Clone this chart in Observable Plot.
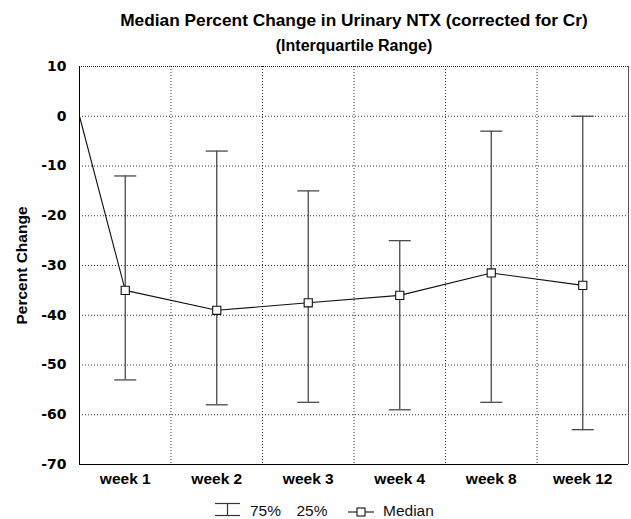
<!DOCTYPE html>
<html>
<head>
<meta charset="utf-8">
<script src="https://cdn.jsdelivr.net/npm/d3@7"></script>
<script src="https://cdn.jsdelivr.net/npm/@observablehq/plot@0.6"></script>
<style>
  html, body { margin: 0; padding: 0; background: white; }
  #chart svg { display: block; }
  #legend { display: block; }
</style>
</head>
<body>
<div id="chart"></div>
<script>
// ---- data ----
const weeks   = ["week 1", "week 2", "week 3", "week 4", "week 8", "week 12"];
const median  = [-35, -39, -37.5, -36, -31.5, -34];
const q75     = [-12, -7, -15, -25, -3, 0];
const q25     = [-53, -58, -57.5, -59, -57.5, -63];
const startValue = 0;            // baseline (week 0) value
const yTicks  = [10, 0, -10, -20, -30, -40, -50, -60, -70];
const titleText = "Median Percent Change in Urinary NTX (corrected for Cr)";
const subtitleText = "(Interquartile Range)";
const yLabel = "Percent Change";

// ---- build tables ----
const rows = weeks.map((w, i) => ({week: w, pos: i + 0.5, median: median[i], hi: q75[i], lo: q25[i]}));
const lineData = [{pos: 0, median: startValue}, ...rows];
const bounds = d3.range(1, weeks.length);           // band boundaries for vertical grid

const capSymbol = {
  draw(ctx, size) {
    const h = Math.sqrt(size / Math.PI);
    ctx.moveTo(-h, 0);
    ctx.lineTo(h, 0);
  }
};

const font = "'Liberation Sans', Arial, Helvetica, sans-serif";
const tickFont = "'DejaVu Sans', 'Liberation Sans', Arial, sans-serif";
const gridColor = "#333";

const chart = Plot.plot({
  width: 631,
  height: 495,
  marginLeft: 79,
  marginRight: 3,
  marginTop: 66,
  marginBottom: 31,
  style: {fontFamily: font, background: "white", color: "black", overflow: "visible"},
  x: {domain: [0, weeks.length], label: null},
  y: {domain: [yTicks[yTicks.length - 1], yTicks[0]], label: null},
  marks: [
    // grid
    Plot.gridX(bounds, {stroke: gridColor, strokeOpacity: 1, strokeDasharray: "1,2"}),
    Plot.gridY(yTicks.slice(1, -1), {stroke: gridColor, strokeOpacity: 1, strokeDasharray: "1,2"}),
    Plot.ruleY([yTicks[0]], {stroke: "#222", strokeDasharray: "1,1"}),
    Plot.ruleY([yTicks[yTicks.length - 1]], {stroke: "black"}),
    Plot.ruleX([0], {stroke: "black"}),
    Plot.ruleX([weeks.length], {stroke: "#555"}),
    // axes
    Plot.axisY(yTicks, {tickSize: 0, tickPadding: 13, fontSize: 14, fontWeight: "bold", fontFamily: tickFont,
      tickFormat: d => String(d), label: null}),
    Plot.axisX(rows.map(d => d.pos), {tickSize: 0, tickPadding: 8, fontSize: 15.5, fontWeight: "bold",
      tickFormat: p => weeks[Math.floor(p)], label: null}),
    // error bars
    Plot.ruleX(rows, {x: "pos", y1: "lo", y2: "hi", stroke: "#4a4a4a", strokeWidth: 1.3}),
    Plot.dot(rows, {x: "pos", y: "hi", symbol: capSymbol, r: 11, stroke: "#4a4a4a", strokeWidth: 1.3, fill: "none"}),
    Plot.dot(rows, {x: "pos", y: "lo", symbol: capSymbol, r: 11, stroke: "#4a4a4a", strokeWidth: 1.3, fill: "none"}),
    // median line
    Plot.line(lineData, {x: "pos", y: "median", stroke: "#111", strokeWidth: 1.1}),
    Plot.dot(rows, {x: "pos", y: "median", symbol: "square", r: 4.6, fill: "white", stroke: "#111", strokeWidth: 1.1}),
    // titles
    Plot.text([titleText], {frameAnchor: "top", dy: -41, lineAnchor: "bottom", text: d => d,
      fontSize: 17.3, fontWeight: "bold", fill: "black"}),
    Plot.text([subtitleText], {frameAnchor: "top", dy: -16, lineAnchor: "bottom", text: d => d,
      fontSize: 16, fontWeight: "bold", fill: "black"}),
    Plot.text([yLabel], {frameAnchor: "left", dx: -53, rotate: -90, lineAnchor: "bottom", textAnchor: "middle",
      text: d => d, fontSize: 15.5, fontWeight: "bold", fill: "black"})
  ]
});
document.getElementById("chart").appendChild(chart);

// ---- legend ----
const ns = "http://www.w3.org/2000/svg";
const leg = document.createElementNS(ns, "svg");
leg.setAttribute("id", "legend");
leg.setAttribute("width", 631);
leg.setAttribute("height", 24);
leg.style.fontFamily = font;
leg.innerHTML = `
  <g stroke="#333" stroke-width="1.2" fill="none">
    <line x1="215" x2="240" y1="8.5" y2="8.5"/>
    <line x1="227.5" x2="227.5" y1="8.5" y2="20.5"/>
    <line x1="215" x2="240" y1="20.5" y2="20.5"/>
  </g>
  <text x="250" y="21" font-size="15.5" fill="#111">75%</text>
  <text x="296.5" y="21" font-size="15.5" fill="#111">25%</text>
  <g stroke="#111" stroke-width="1.1">
    <line x1="348" x2="374" y1="17" y2="17"/>
    <rect x="357" y="13" width="8" height="8" fill="white"/>
  </g>
  <text x="383" y="21" font-size="15.5" fill="#111">Median</text>
`;
document.getElementById("chart").appendChild(leg);
</script>
</body>
</html>
